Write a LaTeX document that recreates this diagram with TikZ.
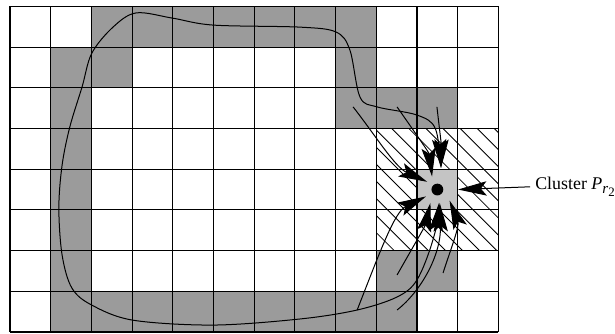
\documentclass[tikz,border=0pt]{standalone}
\usepackage{fontspec}
\setmainfont{Liberation Serif}
\usetikzlibrary{arrows.meta}
\definecolor{dgray}{RGB}{155,155,155}
\definecolor{lgray}{RGB}{196,196,196}
\tikzset{
  gridline/.style={line width=0.75pt, black},
  hatchline/.style={line width=0.6pt, black},
  pathline/.style={line width=0.7pt, black},
  bigtip/.tip={Stealth[length=20pt,width=10pt,inset=4pt]},
  endtip/.style={-bigtip},
  bothtips/.style={bigtip-bigtip},
  cellfill/.style={fill=dgray},
}
\begin{document}
\begin{tikzpicture}[x=1cm,y=1cm]
\useasboundingbox (-0.246,-0.049) rectangle (14.865,8.157);
% dark gray cells (col, row from top)
\foreach \c/\r in {2/0,3/0,4/0,5/0,6/0,7/0,8/0,
                   1/1,2/1,8/1,
                   1/2,8/2,9/2,10/2,
                   1/3,1/4,1/5,
                   1/6,9/6,10/6,
                   1/7,2/7,3/7,4/7,5/7,6/7,7/7,8/7,9/7}
  \fill[cellfill] (\c,{7-\r}) rectangle ++(1,1);
% hatched region
\begin{scope}
  \clip (9,2) rectangle (12,5);
  \foreach \i in {0,...,15} {
    \pgfmathsetmacro\cc{11.02+\i*0.42}
    \draw[hatchline] ({\cc-5},5) -- ({\cc-2},2);
  }
\end{scope}
% cluster cell
\node[rectangle, fill=lgray, minimum size=1cm, inner sep=0pt] (clu) at (10.5,3.5) {};
% grid
\draw[gridline] (0,0) grid (12,8);
% main loop curve
\draw[pathline, bothtips] plot[smooth, tension=0.55] coordinates {
  (10.54,3.17) (10.39,2.26) (10.0,1.28) (9.51,0.86) (8.53,0.54) (7.13,0.32)
  (5.0,0.17) (3.02,0.29) (2.01,0.66) (1.52,1.08) (1.28,1.89) (1.20,3.05)
  (1.28,4.10) (1.47,5.04) (1.77,6.02) (2.01,6.85) (2.53,7.49) (3.1,7.84)
  (4.0,7.71) (5.0,7.54) (7.13,7.49) (8.01,7.37) (8.35,6.93) (8.6,5.77)
  (9.02,5.53) (10.0,5.33) (10.45,5.0) (10.59,4.03)};
% named end points
\coordinate (u1s) at (8.43,5.53);  \coordinate (u1t) at (10.25,3.69);
\coordinate (uas) at (9.51,5.53);  \coordinate (uat) at (10.37,3.82);
\coordinate (ubs) at (10.49,5.53); \coordinate (ubt) at (10.59,4.03);
\coordinate (las) at (8.53,0.54);  \coordinate (lat) at (10.22,3.33);
\coordinate (lbs) at (9.51,1.40);  \coordinate (lbt) at (10.33,3.17);
\coordinate (lcs) at (9.51,0.54);  \coordinate (lct) at (10.56,3.17);
\coordinate (lds) at (10.64,1.45); \coordinate (ldt) at (10.80,3.23);
% converging arrows
\draw[pathline, endtip] (u1s) .. controls (8.97,4.84) and (9.46,4.05) .. (u1t);
\draw[pathline, endtip] (uas) .. controls (9.95,4.9) and (10.3,4.4) .. (uat);
\draw[pathline, endtip] (ubs) .. controls (10.55,5.0) and (10.6,4.6) .. (ubt);
\draw[pathline, endtip] (las) .. controls (9.1,2.0) and (9.45,2.95) .. (lat);
\draw[pathline, endtip] (lbs) .. controls (9.85,2.0) and (10.2,2.6) .. (lbt);
\draw[pathline, endtip] (lcs) .. controls (10.1,1.0) and (10.6,1.9) .. (lct);
\draw[pathline, endtip] (lds) .. controls (10.85,2.1) and (11.05,2.6) .. (ldt);
% dot
\node[circle, fill=black, inner sep=0pt, minimum size=0.29cm] (dot) at (10.5,3.5) {};
% label
\node[anchor=base west, inner xsep=0.12cm, inner ysep=0pt, font=\fontsize{12.5}{15}\selectfont] (lbl) at (12.78,3.49)
  {Cluster \textit{P}\raisebox{-0.45ex}{\fontsize{10.5}{10.5}\selectfont\textit{r}\raisebox{-0.35ex}{\fontsize{9}{9}\selectfont 2}}};
\draw[pathline, endtip] (lbl.west) -- (clu.east);
\end{tikzpicture}
\end{document}
